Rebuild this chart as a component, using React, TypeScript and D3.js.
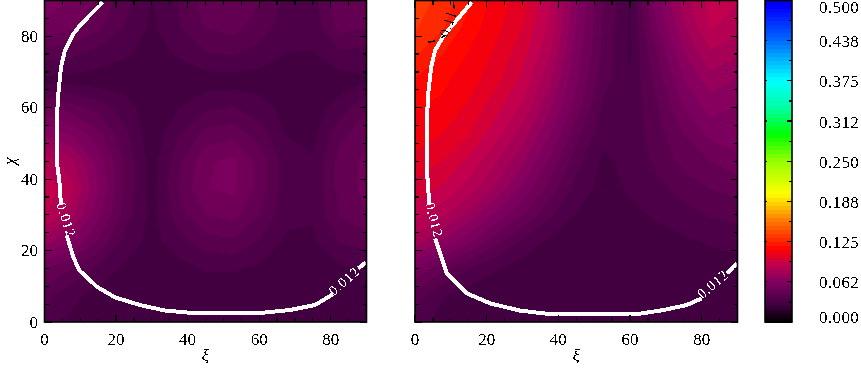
import * as d3 from "d3";

const width = 861;
const height = 368;

// grid of the field, one reading every 7.5 degrees, top row is chi = 90, in units of 0.001
const gridStep = 7.5;
const fieldLeft = [
  [60, 56, 49, 40, 31, 38, 47, 50, 44, 36, 35, 49, 47],
  [54, 51, 45, 37, 30, 37, 44, 46, 41, 34, 33, 46, 44],
  [41, 39, 35, 32, 29, 32, 37, 38, 35, 31, 31, 36, 35],
  [29, 29, 28, 28, 27, 28, 28, 28, 28, 27, 28, 28, 30],
  [52, 47, 41, 34, 27, 31, 36, 38, 34, 29, 28, 34, 43],
  [68, 62, 52, 39, 27, 37, 46, 48, 41, 31, 29, 42, 48],
  [86, 77, 60, 43, 28, 42, 55, 58, 48, 34, 32, 46, 52],
  [92, 83, 63, 43, 28, 44, 56, 58, 48, 34, 32, 46, 52],
  [88, 77, 58, 41, 29, 41, 50, 52, 44, 33, 32, 44, 50],
  [72, 62, 49, 35, 29, 35, 41, 43, 37, 30, 30, 38, 40],
  [50, 44, 36, 30, 27, 29, 32, 32, 30, 28, 28, 30, 32],
  [40, 33, 29, 27, 27, 27, 27, 27, 27, 27, 27, 27, 28],
  [36, 30, 27, 26, 26, 26, 26, 26, 26, 26, 27, 27, 27],
];
const fieldRight = [
  [135, 129, 120, 110, 103, 88, 64, 44, 31, 60, 78, 90, 88],
  [132, 126, 116, 108, 100, 86, 62, 43, 30, 56, 74, 88, 84],
  [126, 119, 112, 105, 96, 82, 60, 42, 30, 50, 68, 80, 76],
  [118, 114, 109, 102, 92, 76, 57, 40, 32, 46, 62, 72, 68],
  [113, 111, 105, 96, 86, 70, 53, 36, 33, 43, 56, 65, 62],
  [110, 106, 100, 90, 78, 63, 46, 33, 33, 41, 50, 58, 60],
  [104, 100, 92, 82, 70, 55, 40, 30, 33, 39, 46, 50, 54],
  [98, 93, 85, 74, 61, 48, 35, 29, 32, 36, 40, 44, 46],
  [90, 83, 73, 61, 50, 39, 31, 28, 30, 32, 35, 38, 40],
  [78, 68, 58, 46, 36, 30, 27, 27, 28, 29, 30, 32, 33],
  [56, 46, 38, 32, 28, 26, 26, 26, 26, 27, 27, 28, 29],
  [41, 32, 28, 26, 26, 26, 26, 26, 26, 26, 26, 26, 27],
  [34, 29, 26, 26, 26, 26, 26, 26, 26, 26, 26, 26, 27],
];

// 0.012 contour, [xi, chi], split where the labels sit
const whiteLeft = [
  [
    [16.2, 89.5], [9.9, 83], [8.05, 80.6], [5.7, 76], [4.6, 71.3], [3.86, 63.9], [3.4, 56.4],
    [3.4, 45], [4.15, 39.7], [4.6, 32.7],
  ],
  [
    [6.2, 24.3], [8.05, 18.2], [9.7, 14.5], [14.6, 9.9], [19.7, 6.9], [26.7, 4.75], [33.7, 3.2],
    [40.6, 2.6], [61.1, 2.6], [68.6, 3.35], [75.6, 4.75], [80.7, 7.8],
  ],
  [[87.7, 15], [89.8, 16.7]],
];
const whiteRight = [
  [
    [15.8, 89.5], [7.9, 80], [5.6, 76], [4.5, 71.3], [3.7, 63.9], [3.3, 56.4], [3.3, 43], [4, 32.7],
  ],
  [
    [5.6, 23.4], [8.9, 13.6], [14.5, 8], [21, 5.2], [29.3, 3.2], [37.7, 2.2], [61.9, 2.2],
    [69.4, 3.35], [75.8, 4.75], [80, 6.6],
  ],
  [[87, 13.6], [89.9, 16.4]],
];
// bits of the 0.1 contour that show beside the white line
const blackRight = [
  [[3.6, 78.3], [5.6, 78.7]],
  [[7.3, 79.6], [8.4, 80.2]],
  [[10.7, 89.5], [11, 87.6]],
];

const xiTicks = d3.range(0, 91, 5);
const xiLabels = [0, 20, 40, 60, 80];

const barLabels = ["0.000", "0.062", "0.125", "0.188", "0.250", "0.312", "0.375", "0.438", "0.500"];
const barTicks = d3.range(0, 0.5001, 0.03125);
const levelStep = 0.5 / 80;
const levels = d3.range(0, 0.5, levelStep);

const colorStops = [0, 0.027, 0.062, 0.09, 0.113, 0.16, 0.2, 0.25, 0.293, 0.336, 0.376, 0.44, 0.49, 0.5];
const colorValues = [
  "#000000", "#400040", "#80005f", "#c00050", "#ff0000", "#ff8000", "#ffff00", "#99ff00", "#00ff00",
  "#00ffaa", "#00ffff", "#0066ff", "#0000ff", "#0000e8",
];
const color = d3.scaleLinear<string>().domain(colorStops).range(colorValues);

const top = 0.5;
const bottom = 322;
const xLeft = d3.scaleLinear().domain([0, 90]).range([44.5, 366.5]);
const xRight = d3.scaleLinear().domain([0, 90]).range([415, 737.5]);
const y = d3.scaleLinear().domain([0, 90]).range([bottom, top]);
const yBar = d3.scaleLinear().domain([0, 0.5]).range([bottom, top]);
const barX0 = 765;
const barX1 = 792;

function Panel({ id, field, x, white, showY }: any) {
  const flat = [...field].reverse().flat().map((d: number) => d / 1000);
  const bands = d3.contours().size([13, 13]).thresholds(levels)(flat);
  const path = d3.geoPath(
    d3.geoTransform({
      point(px: number, py: number) {
        this.stream.point(x((px - 0.5) * gridStep), y((py - 0.5) * gridStep));
      },
    })
  );
  const line = d3.line().x((d: any) => x(d[0])).y((d: any) => y(d[1]));
  const [x0, x1] = x.range();
  return (
    <g>
      <clipPath id={id}>
        <rect x={x0} y={top} width={x1 - x0} height={bottom - top} />
      </clipPath>
      <g clipPath={`url(#${id})`}>
        <rect x={x0} y={top} width={x1 - x0} height={bottom - top} fill={color(0.025)} />
        {bands.map((b: any, i: number) =>
          b.coordinates.length ? (
            <path key={i} d={path(b) as string} fill={color(b.value + levelStep / 2)} shapeRendering="crispEdges" />
          ) : null
        )}
        {white.map((seg: any, i: number) => (
          <path key={i} d={line(seg) as string} fill="none" stroke="#fff" strokeWidth={4} shapeRendering="crispEdges" />
        ))}
      </g>
      <rect x={x0} y={top} width={x1 - x0} height={bottom - top} fill="none" stroke="#000" strokeWidth={1.6} />
      {xiTicks.map((t) => {
        const len = t % 20 === 0 ? 7 : 4;
        return (
          <g key={t} stroke="#000" strokeWidth={1.2} shapeRendering="crispEdges">
            <line x1={x(t)} x2={x(t)} y1={bottom} y2={bottom - len} />
            <line x1={x(t)} x2={x(t)} y1={top} y2={top + len} />
            <line x1={x0} x2={x0 + len} y1={y(t)} y2={y(t)} />
            <line x1={x1} x2={x1 - len} y1={y(t)} y2={y(t)} />
          </g>
        );
      })}
      <g filter="url(#crisp)" fontFamily="Liberation Serif" fontSize={17} fill="#000">
        {xiLabels.map((t) => (
          <text key={t} x={x(t)} y={345} textAnchor="middle">
            {t}
          </text>
        ))}
        {showY &&
          xiLabels.map((t) => (
            <text key={t} x={38} y={y(t) + 5.5} textAnchor="end">
              {t}
            </text>
          ))}
        <text x={x(45)} y={361} textAnchor="middle" fontStyle="italic">
          ξ
        </text>
      </g>
    </g>
  );
}

function ContourLabel({ x, y: ly, angle, text, fill }: any) {
  return (
    <text
      transform={`translate(${x},${ly}) rotate(${angle})`}
      textAnchor="middle"
      dy={4}
      fontFamily="Liberation Serif"
      fontSize={14}
      letterSpacing={0.8}
      fill={fill}
    >
      {text}
    </text>
  );
}

export default function App() {
  const blackLine = d3.line().x((d: any) => xRight(d[0])).y((d: any) => y(d[1]));
  return (
    <svg width={width} height={height} style={{ position: "fixed", left: 0, top: 0, background: "#fff" }}>
      <defs>
        <filter id="crisp" filterUnits="userSpaceOnUse" x={0} y={0} width={width} height={height} colorInterpolationFilters="sRGB">
          <feComponentTransfer>
            <feFuncA type="discrete" tableValues="0 1" />
          </feComponentTransfer>
        </filter>
      </defs>
      <Panel id="clipLeft" field={fieldLeft} x={xLeft} white={whiteLeft} showY />
      <Panel id="clipRight" field={fieldRight} x={xRight} white={whiteRight} showY={false} />

      {blackRight.map((seg, i) => (
        <path key={i} d={blackLine(seg as any) as string} fill="none" stroke="#000" strokeWidth={1.5} shapeRendering="crispEdges" />
      ))}

      <g filter="url(#crisp)">
        <ContourLabel x={65.5} y={220} angle={72} text="0.012" fill="#fff" />
        <ContourLabel x={344.5} y={281.5} angle={-41} text="0.012" fill="#fff" />
        <ContourLabel x={433.5} y={220} angle={75} text="0.012" fill="#fff" />
        <ContourLabel x={713.5} y={285} angle={-40} text="0.012" fill="#fff" />
        <ContourLabel x={449} y={24} angle={-72} text="0.11" fill="#000" />
        <text transform="translate(12,161) rotate(-90)" textAnchor="middle" dy={3} fontFamily="Liberation Serif" fontStyle="italic" fontSize={17}>
          χ
        </text>
      </g>

      {levels.map((l, i) => (
        <rect
          key={i}
          x={barX0}
          width={barX1 - barX0}
          y={yBar(l + levelStep)}
          height={yBar(l) - yBar(l + levelStep) + 0.5}
          fill={color(l + levelStep / 2)}
          shapeRendering="crispEdges"
        />
      ))}
      <rect x={barX0} y={top} width={barX1 - barX0} height={bottom - top} fill="none" stroke="#000" strokeWidth={1.6} />
      {barTicks.map((t, i) => (
        <g key={i} stroke="#000" strokeWidth={1.2} shapeRendering="crispEdges">
          <line x1={barX1} x2={barX1 - (i % 2 === 0 ? 5.5 : 3)} y1={yBar(t)} y2={yBar(t)} />
          {i % 2 === 0 && <line x1={barX0} x2={barX0 + 2} y1={yBar(t)} y2={yBar(t)} />}
        </g>
      ))}
      <g filter="url(#crisp)" fontFamily="Liberation Serif" fontSize={17} letterSpacing={0.4} fill="#000">
        {barLabels.map((s, i) => (
          <text key={s} x={819} y={Math.min(Math.max(yBar(i * 0.0625) + 1, 7.5), 317.5) + 5.5}>
            {s}
          </text>
        ))}
      </g>
    </svg>
  );
}
